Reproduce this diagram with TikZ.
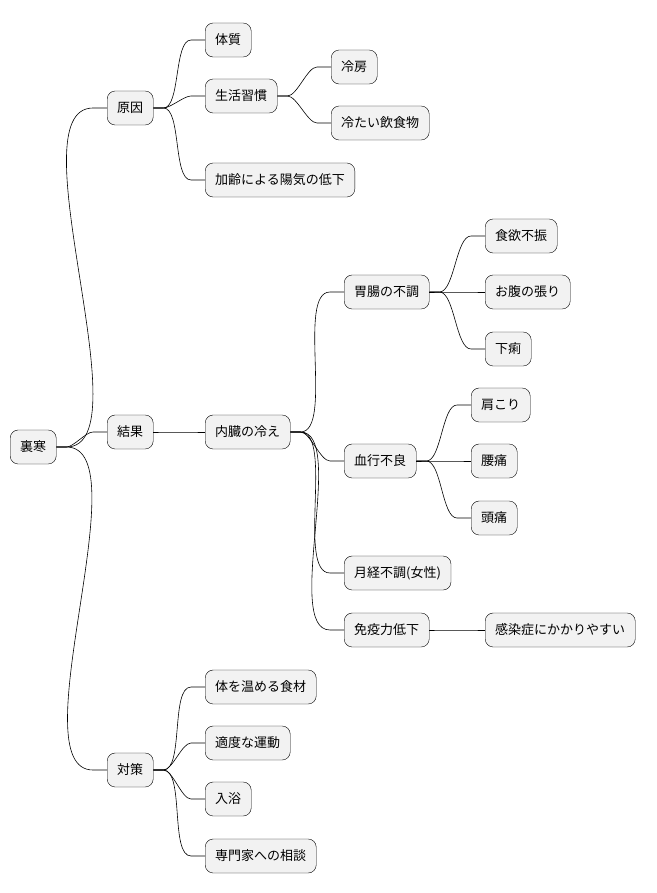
\documentclass[tikz,border=0pt]{standalone}
\usepackage{fontspec}
\setmainfont{Noto Sans CJK JP}
\begin{document}
\begin{tikzpicture}[x=1pt,y=-1pt,
  box/.style={draw=black,fill=black!5,rounded corners=8pt,minimum height=34pt,inner xsep=10pt,anchor=west,font=\fontsize{13}{15}\selectfont},
  link/.style={draw=black,line width=0.6pt}]
\useasboundingbox (0,0) rectangle (656,893);
\node[box] (r) at (10,447) {裏寒};
\node[box] (a) at (107,108) {原因};
\node[box] (b) at (107,432) {結果};
\node[box] (c) at (107,770) {対策};
\node[box] (a1) at (205,40) {体質};
\node[box] (a2) at (205,96) {生活習慣};
\node[box] (a3) at (205,180) {加齢による陽気の低下};
\node[box] (a21) at (331,67) {冷房};
\node[box] (a22) at (331,123) {冷たい飲食物};
\node[box] (b1) at (205,432) {内臓の冷え};
\node[box] (b11) at (344,292) {胃腸の不調};
\node[box] (b12) at (344,461) {血行不良};
\node[box] (b13) at (344,573) {月経不調(女性)};
\node[box] (b14) at (344,630) {免疫力低下};
\node[box] (b111) at (485,236) {食欲不振};
\node[box] (b112) at (485,292) {お腹の張り};
\node[box] (b113) at (485,349) {下痢};
\node[box] (b121) at (471,405) {肩こり};
\node[box] (b122) at (471,461) {腰痛};
\node[box] (b123) at (471,518) {頭痛};
\node[box] (b141) at (485,630) {感染症にかかりやすい};
\node[box] (c1) at (205,687) {体を温める食材};
\node[box] (c2) at (205,743) {適度な運動};
\node[box] (c3) at (205,799) {入浴};
\node[box] (c4) at (205,856) {専門家への相談};
\foreach \p/\c in {r/a,r/b,r/c,a/a1,a/a2,a/a3,a2/a21,a2/a22,b/b1,b1/b11,b1/b12,b1/b13,b1/b14,b11/b111,b11/b112,b11/b113,b12/b121,b12/b122,b12/b123,b14/b141,c/c1,c/c2,c/c3,c/c4}
  \draw[link] (\p.east) -- ++(10,0) to[out=0,in=180,looseness=0.6] ([xshift=-14pt]\c.west) -- (\c.west);
\end{tikzpicture}
\end{document}
